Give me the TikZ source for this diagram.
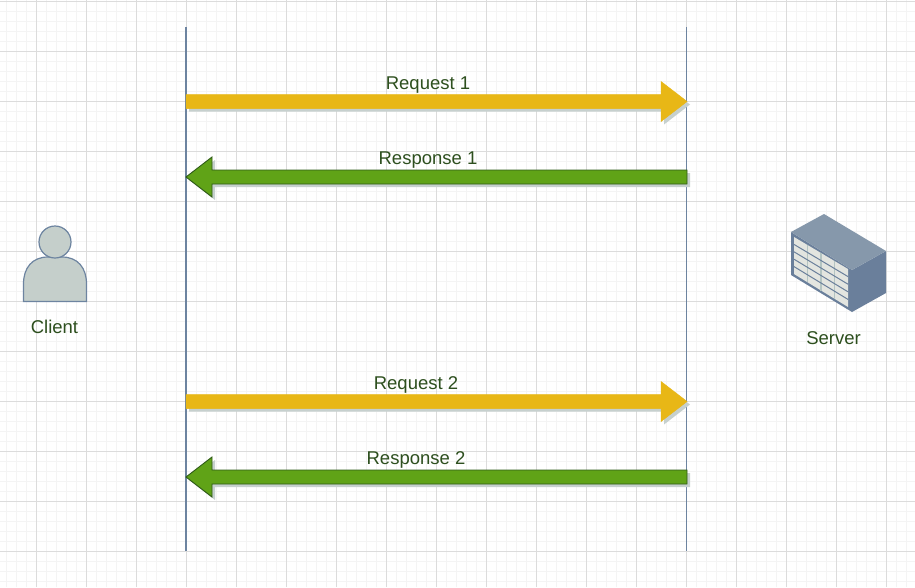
\documentclass[tikz,border=0pt]{standalone}
\usepackage{fontspec}
\setmainfont{Liberation Sans}
\usetikzlibrary{calc}
\definecolor{gridminor}{HTML}{F4F4F4}
\definecolor{gridmajor}{HTML}{DCDCDC}
\definecolor{lifeline}{HTML}{6D84A0}
\definecolor{txtgreen}{HTML}{2D4F1E}
\definecolor{yellowfill}{HTML}{E8B716}
\definecolor{greenfill}{HTML}{60A317}
\definecolor{greenline}{HTML}{2F5B17}
\definecolor{shade}{HTML}{C6D0CE}
\definecolor{personfill}{HTML}{C5CFCB}
\definecolor{servertop}{HTML}{8698AB}
\definecolor{serverside}{HTML}{6A7F9B}
\definecolor{serverpanel}{HTML}{E3E5E0}
\definecolor{servercol}{HTML}{B4C4C2}
\tikzset{
  x=1pt,y=-1pt,
  lab/.style={text=txtgreen,font=\fontsize{18.5}{20}\selectfont,inner sep=0pt,anchor=base},
  life/.style={draw=lifeline,line width=1.4pt},
  reqarrow/.style={fill=yellowfill,draw=yellowfill,line width=.5pt,line join=miter},
  resparrow/.style={fill=greenfill,draw=greenline,line width=.9pt,line join=miter},
  shadearrow/.style={fill=shade,draw=none},
  person/.style={fill=personfill,draw=lifeline,line width=1.2pt},
}
% #1 from, #2 to, #3 direction (1 right, -1 left), #4 style
\newcommand{\blockarrow}[4]{%
  \path[#4] ($(#1)+(0,-7)$) -- ($(#2)+({-26*#3},-7)$) -- ($(#2)+({-26*#3},-20)$) -- (#2)
    -- ($(#2)+({-26*#3},20)$) -- ($(#2)+({-26*#3},7)$) -- ($(#1)+(0,7)$) -- cycle;}
\newcommand{\shadedarrow}[4]{%
  \coordinate (sa) at ($(#1)+(3,3)$);\coordinate (sb) at ($(#2)+(3,3)$);%
  \blockarrow{sa}{sb}{#3}{shadearrow}%
  \blockarrow{#1}{#2}{#3}{#4}}
\begin{document}
\begin{tikzpicture}
\useasboundingbox (0,0) rectangle (915,587);
\fill[white] (0,0) rectangle (915,587);
% grid
\foreach \gx in {6.5,16.5,...,915}{\draw[gridminor,line width=.8pt] (\gx,0) -- (\gx,587);}
\foreach \gy in {1.5,11.5,...,587}{\draw[gridminor,line width=.8pt] (0,\gy) -- (915,\gy);}
\foreach \gx in {36.5,86.5,...,915}{\draw[gridmajor,line width=1pt] (\gx,0) -- (\gx,587);}
\foreach \gy in {1.5,51.5,...,587}{\draw[gridmajor,line width=1pt] (0,\gy) -- (915,\gy);}
% lifelines
\coordinate (lt) at (186,27); \coordinate (lb) at (186,551);
\coordinate (rt) at (686.5,27); \coordinate (rb) at (686.5,551);
\draw[life] (lt) -- (lb);
\draw[life] (rt) -- (rb);
% arrows
\coordinate (a1) at (186,101.5); \coordinate (b1) at (687,101.5);
\coordinate (a2) at (687,177);   \coordinate (b2) at (186,177);
\coordinate (a3) at (186,401.5); \coordinate (b3) at (687,401.5);
\coordinate (a4) at (687,477);   \coordinate (b4) at (186,477);
\shadedarrow{a1}{b1}{1}{reqarrow}
\shadedarrow{a2}{b2}{-1}{resparrow}
\shadedarrow{a3}{b3}{1}{reqarrow}
\shadedarrow{a4}{b4}{-1}{resparrow}
\node[lab] (t1) at (428,89) {Request 1};
\node[lab] (t2) at (428,164) {Response 1};
\node[lab] (t3) at (416,389) {Request 2};
\node[lab] (t4) at (416,464) {Response 2};
% client
\path[person] (23.5,301.5) -- (23.5,284) .. controls (23.5,268) and (32,257) .. (48,257)
  -- (62,257) .. controls (78,257) and (86.5,268) .. (86.5,284) -- (86.5,301.5) -- cycle;
\path[person] (55,242) circle (16);
\node[lab] (client) at (54.5,333) {Client};
% server
\fill[serverside] (791,232) -- (852,270) -- (852,312) -- (791,275) -- cycle;
\fill[serverside] (852,270) -- (886,251) -- (886,293) -- (852,312) -- cycle;
\fill[servertop] (791,232) -- (824,214) -- (886,251) -- (852,270) -- cycle;
\fill[serverpanel] (794,237) -- (848,269) -- (848,307) -- (794,274) -- cycle;
\foreach \k in {1,2,3}{
  \draw[servercol,line width=1.5pt] ({794+\k*13.5},{237+\k*8}) -- ({794+\k*13.5},{274+\k*8.25});
}
\foreach \k in {1,2,3,4}{
  \draw[serverside,line width=1pt] (794,{237+\k*7.4}) -- (848,{269+\k*7.6});
}
\node[lab] (server) at (833.5,344.5) {Server};
\end{tikzpicture}
\end{document}
